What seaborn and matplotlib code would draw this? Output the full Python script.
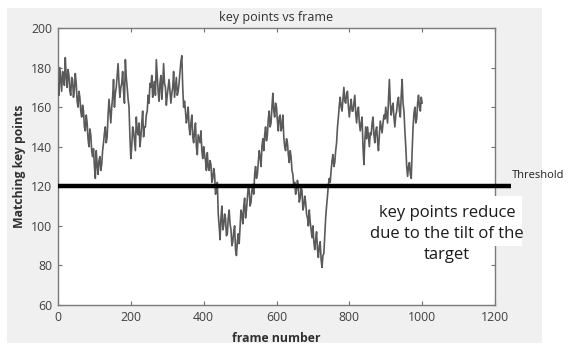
import numpy as np
import pandas as pd
import seaborn as sns
import matplotlib
matplotlib.use("Agg")
import matplotlib.pyplot as plt
from matplotlib.patches import Rectangle

# Matching key points per sampled frame, frames 0 .. 1000 evenly spaced
key_points = [
    172, 166, 180, 174, 168, 178, 177, 171, 185, 176, 170, 179, 176, 168, 166, 175, 174, 165, 169, 177,
    172, 163, 160, 168, 165, 158, 155, 161, 158, 150, 148, 156, 152, 144, 140, 149, 146, 138, 135, 139,
    130, 124, 138, 131, 126, 133, 135, 128, 131, 138, 142, 147, 150, 142, 145, 156, 164, 158, 152, 160,
    165, 174, 160, 167, 170, 176, 182, 172, 165, 170, 172, 178, 168, 162, 184, 175, 170, 164, 160, 145,
    134, 140, 150, 148, 143, 138, 155, 148, 146, 152, 140, 145, 152, 158, 145, 150, 150, 156, 158, 166,
    162, 172, 170, 176, 165, 170, 173, 166, 184, 176, 168, 163, 172, 176, 164, 171, 182, 172, 170, 161,
    166, 170, 174, 168, 162, 167, 170, 178, 165, 170, 175, 166, 168, 172, 178, 183, 186, 170, 160, 163,
    158, 152, 155, 160, 150, 146, 152, 156, 145, 142, 148, 152, 140, 136, 146, 144, 142, 148, 138, 134,
    140, 136, 133, 128, 137, 130, 128, 133, 131, 122, 124, 129, 126, 116, 118, 122, 106, 100, 93, 104,
    110, 98, 100, 106, 104, 95, 96, 104, 108, 101, 98, 90, 92, 97, 100, 88, 85, 92, 96, 91,
    100, 108, 106, 101, 110, 114, 104, 108, 114, 120, 118, 110, 112, 118, 121, 116, 126, 130, 124, 126,
    132, 138, 135, 130, 140, 144, 138, 146, 150, 143, 146, 154, 158, 150, 152, 160, 167, 158, 155, 162,
    160, 153, 148, 155, 156, 148, 150, 156, 145, 140, 138, 144, 142, 136, 132, 138, 135, 128, 126, 120,
    122, 116, 118, 123, 120, 112, 114, 119, 118, 108, 110, 115, 112, 106, 104, 100, 108, 102, 98, 94,
    100, 92, 88, 93, 97, 88, 84, 90, 92, 83, 79, 85, 86, 95, 104, 110, 115, 121, 124, 122,
    128, 133, 136, 130, 132, 138, 142, 150, 155, 161, 165, 160, 158, 164, 170, 163, 162, 167, 168, 160,
    155, 160, 164, 158, 158, 162, 166, 157, 152, 158, 160, 152, 148, 152, 155, 140, 131, 143, 150, 144,
    150, 145, 140, 147, 146, 152, 155, 146, 142, 148, 150, 143, 138, 146, 153, 150, 147, 152, 156, 154,
    160, 156, 152, 164, 174, 162, 156, 160, 162, 155, 150, 156, 158, 163, 165, 158, 155, 166, 174, 162,
    158, 148, 140, 130, 125, 130, 132, 126, 124, 138, 150, 157, 160, 152, 154, 162, 166, 160, 158, 165,
    162,
]
first_frame, last_frame = 0, 1000
threshold_value = 120
threshold_end = 1245

x_ticks = [0, 200, 400, 600, 800, 1000, 1200]
y_ticks = [60, 80, 100, 120, 140, 160, 180, 200]

df = pd.DataFrame({
    "frame": np.linspace(first_frame, last_frame, len(key_points)),
    "points": key_points,
})

sns.set_theme(style="white")
plt.rcParams["font.family"] = ["Open Sans", "DejaVu Sans"]

W, H = 570, 347
fig = plt.figure(figsize=(W / 100, H / 100), dpi=100)
fig.patch.set_facecolor("white")

# light gray figure panel
fig.add_artist(Rectangle((7 / W, 1 - 343 / H), (542 - 7) / W, (343 - 8) / H,
                         transform=fig.transFigure, facecolor="#f0f0f0",
                         edgecolor="none", zorder=0))

ax = fig.add_axes([58 / W, 1 - 305 / H, (495 - 58) / W, (305 - 28) / H])
ax.set_facecolor("white")

sns.lineplot(data=df, x="frame", y="points", ax=ax, color="#5a5a5a",
             linewidth=1.2, estimator=None, zorder=3)

ax.plot([0, threshold_end], [threshold_value, threshold_value], color="black",
        linewidth=3.2, solid_capstyle="butt", clip_on=False, zorder=4)

ax.set_xlim(0, 1200)
ax.set_ylim(60, 200)
ax.set_xticks(x_ticks)
ax.set_yticks(y_ticks)
ax.tick_params(direction="in", length=3, width=0.8, color="#707070",
               labelsize=8.8, labelcolor="#404040", top=True, right=True,
               bottom=True, left=True, pad=4)
for s in ax.spines.values():
    s.set_color("#7a7a7a")
    s.set_linewidth(1.0)

ax.set_title("key points vs frame", fontsize=9, color="#303030", pad=5)
ax.set_xlabel("frame number", fontsize=8.8, fontweight="bold", color="#303030",
              labelpad=6)
ax.set_ylabel("Matching key points", fontsize=8.8, fontweight="bold",
              color="#303030", labelpad=4)

# label at the end of the threshold line
fig.text(512 / W, 1 - 176 / H, "Threshold", fontsize=8, color="#202020",
         ha="left", va="center")

# white box behind the annotation (hides the right spine there)
fig.add_artist(Rectangle((372 / W, 1 - 246 / H), (522 - 372) / W, (246 - 196) / H,
                         transform=fig.transFigure, facecolor="white",
                         edgecolor="none", zorder=5))
fig.text(447 / W, 1 - 234 / H, "key points reduce\ndue to the tilt of the\ntarget",
         fontsize=12, color="#1a1a1a", ha="center", va="center",
         linespacing=1.42, zorder=6)

fig.savefig("out.png", dpi=100, facecolor="white")
